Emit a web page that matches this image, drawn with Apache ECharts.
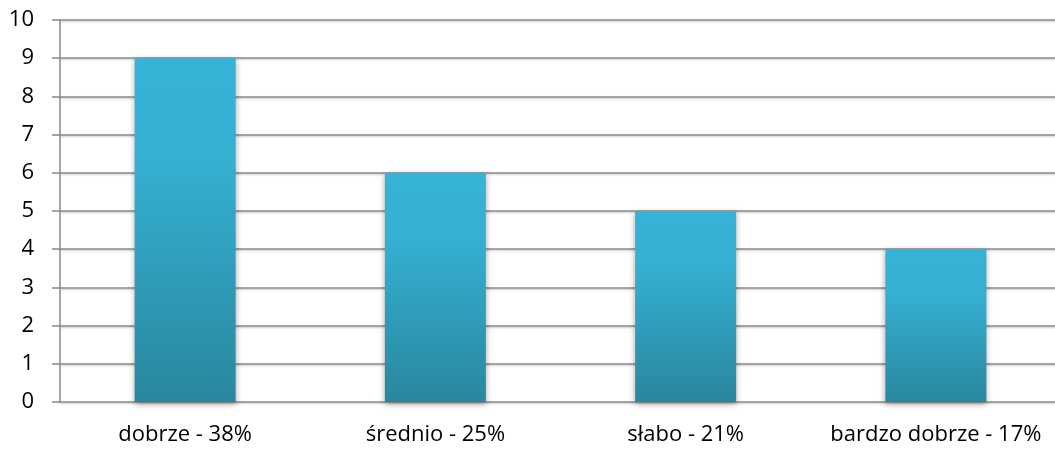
<!DOCTYPE html>
<html><head><meta charset="utf-8">
<style>html,body{margin:0;padding:0;background:#fff;overflow:hidden;width:1055px;height:451px}#c{width:1075px;height:451px}</style>
<script src="https://cdn.jsdelivr.net/npm/echarts@6/dist/echarts.min.js"></script>
</head><body><div id="c"></div>
<script>
const categories = ['dobrze - 38%', 'średnio - 25%', 'słabo - 21%', 'bardzo dobrze - 17%'];
const values = [9, 6, 5, 4];
const yTicks = [0, 1, 2, 3, 4, 5, 6, 7, 8, 9, 10];

const chart = echarts.init(document.getElementById('c'), null, {renderer: 'canvas'});
chart.setOption({
  animation: false,
  grid: {left: 60, top: 20, width: 1001, height: 382, containLabel: false},
  xAxis: {
    type: 'category', data: categories,
    axisLine: {show: false}, axisTick: {show: false},
    axisLabel: {color: '#000', fontSize: 22, fontFamily: 'Open Sans', margin: 22,
      interval: 0, hideOverlap: false}
  },
  yAxis: {
    type: 'value', min: 0, max: 10, interval: 1,
    axisLine: {show: true, lineStyle: {color: '#888', width: 1.5}},
    axisTick: {show: true, length: 8, lineStyle: {color: '#888', width: 1.5}},
    splitLine: {show: true, lineStyle: {color: '#8c8c8c', width: 1.5, shadowColor: 'rgba(0,0,0,0.25)', shadowBlur: 2, shadowOffsetY: 1}},
    axisLabel: {color: '#000', fontSize: 22, fontFamily: 'Open Sans', margin: 26,
      formatter: v => yTicks.includes(v) ? String(v) : ''}
  },
  series: [{
    type: 'bar', data: values, barWidth: 101,
    itemStyle: {
      color: new echarts.graphic.LinearGradient(0, 0, 0, 1, [
        {offset: 0, color: '#37b3d7'},
        {offset: 0.3, color: '#35afd2'},
        {offset: 1, color: '#29879d'}
      ]),
      shadowColor: 'rgba(0,0,0,0.35)', shadowBlur: 6, shadowOffsetY: 2
    }
  }]
});
</script></body></html>
